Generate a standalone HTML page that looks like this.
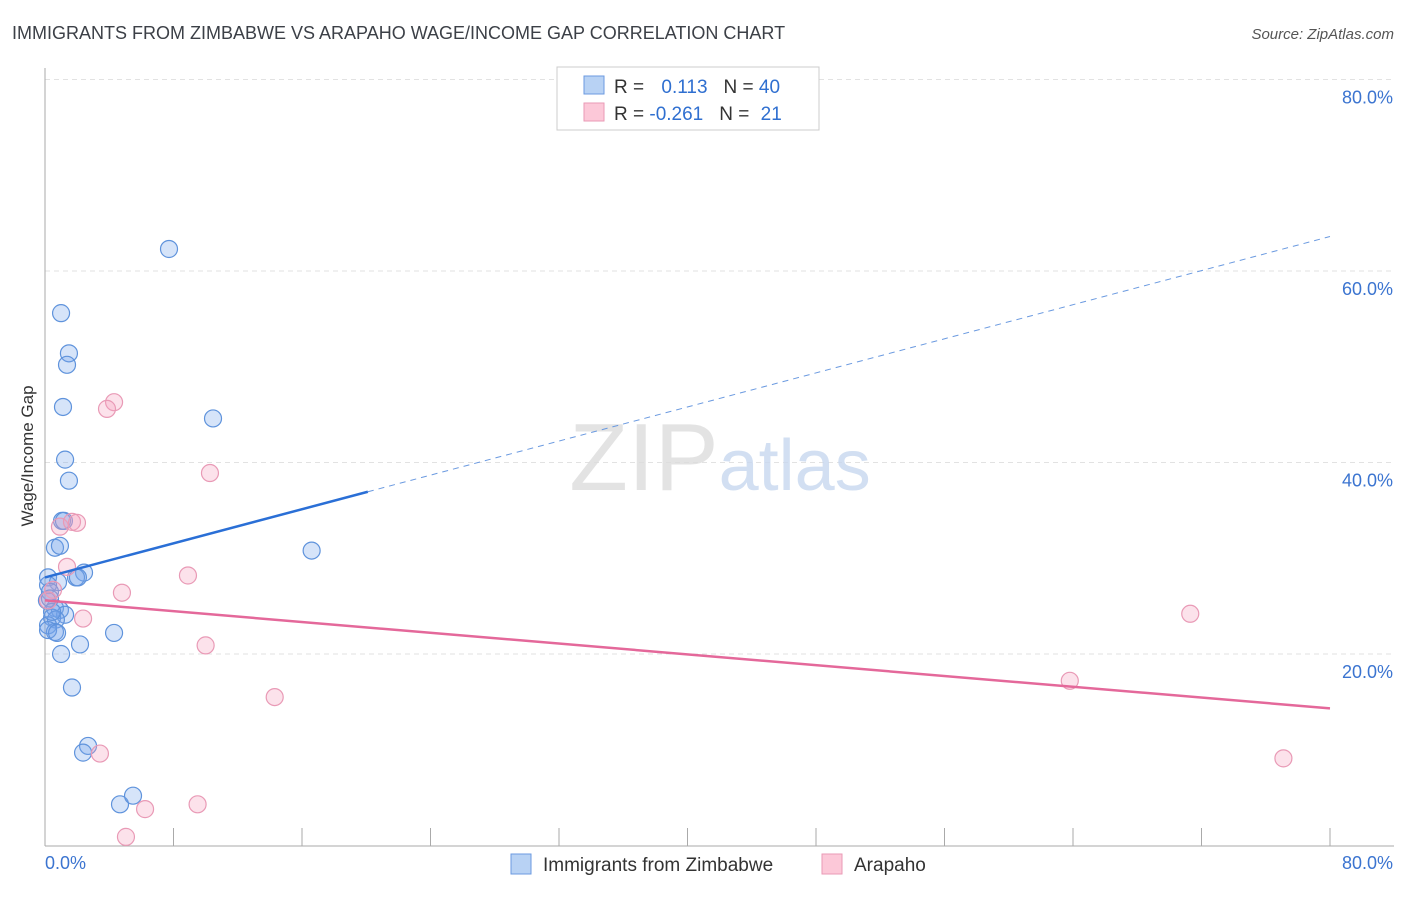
<!DOCTYPE html>
<html><head><meta charset="utf-8"><style>
body{margin:0;background:#fff;font-family:"Liberation Sans",sans-serif;}
svg text{font-family:"Liberation Sans",sans-serif;}
</style></head><body>
<svg id="chart" width="1406" height="892" viewBox="0 0 1406 892">
<text x="12" y="39" font-size="18" fill="#3c4047">IMMIGRANTS FROM ZIMBABWE VS ARAPAHO WAGE/INCOME GAP CORRELATION CHART</text>
<text x="1394" y="39" font-size="15" fill="#555" text-anchor="end" font-style="italic">Source: ZipAtlas.com</text>
<g id="grid"></g>
<text x="720" y="490" font-size="96" text-anchor="middle" fill="#ddd" font-family="Liberation Serif" opacity="0.8">ZIP<tspan fill="#c8d8ef" font-family="Liberation Sans" font-size="72">atlas</tspan></text>
<text transform="translate(33,456) rotate(-90)" font-size="17" fill="#333" text-anchor="middle">Wage/Income Gap</text>
<g id="marks"></g>
<g>
<rect x="557" y="67" width="262" height="63" fill="#fff" stroke="#ccc"/>
<rect x="584" y="76" width="20" height="18" fill="#b8d2f4" stroke="#6b9ae0"/>
<rect x="584" y="103" width="20" height="18" fill="#fcc8d8" stroke="#ea9ab6"/>
<text x="614" y="93" font-size="19" fill="#333">R = <tspan fill="#2f6fd0" dx="12">0.113</tspan><tspan dx="16" fill="#333">N = </tspan><tspan fill="#2f6fd0">40</tspan></text>
<text x="614" y="120" font-size="19" fill="#333">R = <tspan fill="#2f6fd0">-0.261</tspan><tspan dx="16" fill="#333">N = </tspan><tspan fill="#2f6fd0" dx="6">21</tspan></text>
</g>
<g>
<rect x="511" y="854" width="20" height="20" fill="#b8d2f4" stroke="#6b9ae0"/>
<text x="543" y="871" font-size="19" fill="#333">Immigrants from Zimbabwe</text>
<rect x="822" y="854" width="20" height="20" fill="#fcc8d8" stroke="#ea9ab6"/>
<text x="854" y="871" font-size="19" fill="#333">Arapaho</text>
</g>
</svg>
<script>
const blueX=[7.72,1.0,1.49,1.37,1.12,10.46,1.25,1.49,1.06,1.18,0.62,0.93,16.6,2.43,1.93,2.05,0.19,0.81,0.19,0.31,0.62,0.93,1.25,0.44,0.68,0.19,0.62,0.19,4.3,0.75,2.18,1.0,1.68,2.68,2.37,4.67,5.48,0.12,0.31,0.44];
const blueY=[62.3,55.6,51.4,50.2,45.8,44.6,40.3,38.1,33.9,33.9,31.1,31.3,30.8,28.5,28.0,28.0,28.0,27.5,27.2,26.5,24.8,24.6,24.1,23.8,23.6,23.0,22.3,22.5,22.2,22.2,21.0,20.0,16.5,10.4,9.7,4.3,5.2,25.6,25.8,24.4];
const pinkX=[4.3,3.86,10.27,0.93,1.68,1.99,1.37,8.9,4.79,0.5,0.19,2.37,10.0,14.3,63.8,71.3,3.42,77.1,6.23,9.5,5.04];
const pinkY=[46.3,45.6,38.9,33.3,33.8,33.7,29.1,28.2,26.4,26.7,25.6,23.7,20.9,15.5,17.2,24.2,9.6,9.1,3.8,4.3,0.9];
const blueTrend=[28.0,0.445];
const pinkTrend=[25.6,-0.141];
const yTicks=[20,40,60,80];
const xTickLabels=["0.0%","80.0%"];
const NS="http://www.w3.org/2000/svg";
function sx(v){return 45+v*16.0625;}
function sy(v){return 845.5-v*9.575;}
function mk(tag,attrs,parent){const e=document.createElementNS(NS,tag);for(const k in attrs)e.setAttribute(k,attrs[k]);parent.appendChild(e);return e;}
const grid=document.getElementById('grid');const marks=document.getElementById('marks');
yTicks.forEach(t=>{
 const l=mk('line',{x1:45,x2:1394,y1:sy(t),y2:sy(t),stroke:'#e2e2e2','stroke-dasharray':'5,4'},grid);
 
 
 const tx=mk('text',{x:1393,y:sy(t)+24,'font-size':18,fill:'#3b74d0','text-anchor':'end'},grid);
 tx.textContent=t.toFixed(1)+'%';
 
 
});
const ax=mk('line',{x1:45,x2:45,y1:68,y2:846,stroke:'#aaa'},grid);


const bx=mk('line',{x1:45,x2:1394,y1:846,y2:846,stroke:'#aaa'},grid);


for(let i=0;i<=10;i++){const t=mk('line',{x1:sx(i*8),x2:sx(i*8),y1:828,y2:846,stroke:'#aaa'},grid);
 
 }
const xl0=mk('text',{x:45,y:869,'font-size':18,fill:'#3b74d0'},grid);xl0.textContent=xTickLabels[0];


const xl1=mk('text',{x:1393,y:869,'font-size':18,fill:'#3b74d0','text-anchor':'end'},grid);xl1.textContent=xTickLabels[1];


blueX.forEach((x,i)=>{const c=mk('circle',{cx:sx(x),cy:sy(blueY[i]),r:8.5,fill:'rgba(120,165,235,0.3)',stroke:'#5f93dc','stroke-width':1.2},marks);
 
 });
pinkX.forEach((x,i)=>{const c=mk('circle',{cx:sx(x),cy:sy(pinkY[i]),r:8.5,fill:'rgba(245,160,190,0.3)',stroke:'#e99ab6','stroke-width':1.2},marks);
 
 });
const bEnd=20.1;
const b1=mk('line',{x1:sx(0),y1:sy(blueTrend[0]),x2:sx(bEnd),y2:sy(blueTrend[0]+blueTrend[1]*bEnd),stroke:'#2a6fd6','stroke-width':2.5},marks);


const b2=mk('line',{x1:sx(bEnd),y1:sy(blueTrend[0]+blueTrend[1]*bEnd),x2:sx(80),y2:sy(blueTrend[0]+blueTrend[1]*80),stroke:'#6b9ae0','stroke-width':1,'stroke-dasharray':'6,5'},marks);


const p1=mk('line',{x1:sx(0),y1:sy(pinkTrend[0]),x2:sx(80),y2:sy(pinkTrend[0]+pinkTrend[1]*80),stroke:'#e4689a','stroke-width':2.5},marks);


</script>
</body></html>
